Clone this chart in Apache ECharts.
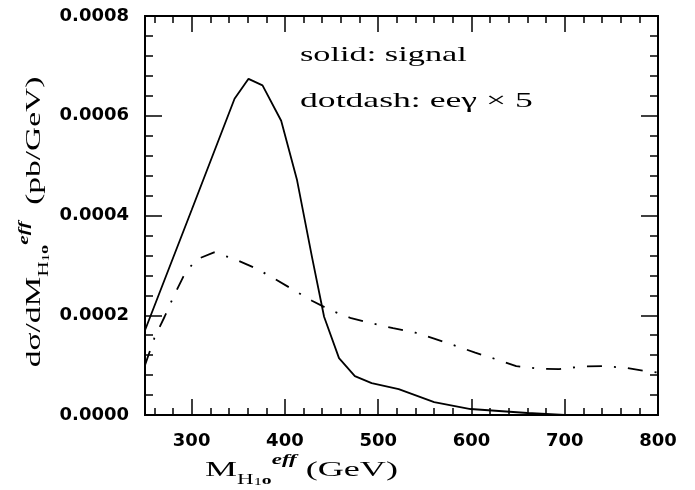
<!DOCTYPE html>
<html>
<head>
<meta charset="utf-8">
<script src="https://cdn.jsdelivr.net/npm/echarts@6/dist/echarts.min.js"></script>
<style>
html,body{margin:0;padding:0;background:#fff;}
#chart{width:695px;height:490px;}
</style>
</head>
<body>
<div id="chart"></div>
<script>
// ---- data ----
const signalMass  = [250, 300, 346, 361, 376, 396, 413, 429, 442, 458, 475, 493, 522, 560, 599, 660, 700];
const signalValue = [0.000170, 0.000411, 0.000634, 0.000674, 0.000661, 0.000590, 0.000471, 0.000317, 0.000197, 0.000114, 0.000078, 0.000064, 0.000052, 0.000026, 0.000012, 0.000004, 0];

const bgMass  = [250, 260, 271, 280, 291, 304, 324, 347, 369, 389, 409, 429, 449, 471, 493, 516, 540, 560, 581, 604, 626, 648, 671, 694, 717, 740, 764, 787, 800];
const bgValue = [0.000100, 0.000154, 0.000197, 0.000235, 0.000277, 0.000311, 0.000326, 0.000312, 0.000294, 0.000273, 0.000251, 0.000229, 0.000210, 0.000194, 0.000184, 0.000174, 0.000165, 0.000153, 0.000140, 0.000125, 0.000112, 0.000098, 0.000093, 0.000092, 0.000097, 0.000098, 0.000095, 0.000088, 0.000085];

const xMajorTicks = [300, 400, 500, 600, 700, 800];
const xMinorTicks = [260, 280, 320, 340, 360, 380, 420, 440, 460, 480, 520, 540, 560, 580, 620, 640, 660, 680, 720, 740, 760, 780];
const yTickLabels = ['0.0000', '0.0002', '0.0004', '0.0006', '0.0008'];

const legendLines = ['solid: signal', 'dotdash: eeγ × 5'];

// ---- chart ----
const chart = echarts.init(document.getElementById('chart'), null, {renderer: 'canvas'});
const INK = '#000';
const labelFont = {fontFamily: 'DejaVu Sans', fontWeight: 'bold', fontSize: 18, color: INK};
const serif = 'Liberation Serif';

function xAxisDef(pos, ticks, len, showLabel) {
  return {
    type: 'value', position: pos, min: 250, max: 800, gridIndex: 0,
    axisLine: {show: true, onZero: false, lineStyle: {color: INK, width: 2}},
    axisTick: {show: true, inside: true, length: len, customValues: ticks, lineStyle: {color: INK, width: 1.5}},
    axisLabel: showLabel ? Object.assign({show: true, margin: 17, customValues: xMajorTicks, formatter: v => String(v)}, labelFont) : {show: false},
    splitLine: {show: false}
  };
}
function yAxisDef(pos, showLabel) {
  return {
    type: 'value', position: pos, min: 0, max: 0.0008, interval: 0.0002,
    axisLine: {show: true, onZero: false, lineStyle: {color: INK, width: 2}},
    axisTick: {show: true, inside: true, length: 17, lineStyle: {color: INK, width: 1.5}},
    minorTick: {show: true, splitNumber: 5, length: 8, lineStyle: {color: INK, width: 1.5}},
    axisLabel: showLabel ? Object.assign({show: true, margin: 16, formatter: v => yTickLabels[Math.round(v / 0.0002)]}, labelFont) : {show: false},
    splitLine: {show: false}, minorSplitLine: {show: false}
  };
}

const subRich = {
  m: {fontFamily: serif, fontSize: 22, lineHeight: 34, verticalAlign: 'middle', color: INK},
  sub: {fontFamily: serif, fontSize: 14, lineHeight: 14, verticalAlign: 'bottom', color: INK},
  subsub: {fontFamily: serif, fontSize: 10, lineHeight: 10, verticalAlign: 'bottom', color: INK},
  sup: {fontFamily: serif, fontSize: 12, fontWeight: 'bold', lineHeight: 24, verticalAlign: 'bottom', color: INK},
  eff: {fontFamily: serif, fontSize: 14, fontWeight: 'bold', fontStyle: 'italic', lineHeight: 14, verticalAlign: 'top', color: INK}
};

const option = {
  backgroundColor: '#fff',
  animation: false,
  grid: {left: 145, right: 37, top: 16, bottom: 75, containLabel: false},
  xAxis: [
    xAxisDef('bottom', xMajorTicks, 16, true),
    xAxisDef('bottom', xMinorTicks, 7, false),
    xAxisDef('top', xMajorTicks, 16, false),
    xAxisDef('top', xMinorTicks, 7, false)
  ],
  yAxis: [
    yAxisDef('left', true),
    yAxisDef('right', false)
  ],
  series: [
    {
      type: 'line', name: 'signal', xAxisIndex: 0, yAxisIndex: 0,
      data: signalMass.map((m, i) => [m, signalValue[i]]),
      showSymbol: false, smooth: false, clip: true,
      lineStyle: {color: INK, width: 1.8, type: 'solid'}
    },
    {
      type: 'line', name: 'eeγ × 5', xAxisIndex: 0, yAxisIndex: 0,
      data: bgMass.map((m, i) => [m, bgValue[i]]),
      showSymbol: false, smooth: false, clip: true,
      lineStyle: {color: INK, width: 1.8, type: [15, 12, 2, 12], dashOffset: 0}
    }
  ],
  graphic: [
    {type: 'text', x: 300, y: 44, scaleX: 1.56, style: {text: legendLines[0], font: '22px "Liberation Serif"', fill: INK, verticalAlign: 'top'}},
    {type: 'text', x: 300, y: 90, scaleX: 1.62, style: {text: legendLines[1], font: '22px "Liberation Serif"', fill: INK, verticalAlign: 'top'}},
    // x axis title
    {
      type: 'text', x: 205, y: 470, scaleX: 1.64,
      style: {
        text: '{m|M}{sub|H}{subsub|1}{sup|o}{eff|eff}{m| (GeV)}',
        verticalAlign: 'middle',
        rich: subRich
      }
    },
    // y axis title
    {
      type: 'text', x: 34, y: 222, rotation: Math.PI / 2, scaleX: 1.52,
      style: {
        text: '{m|dσ/dM}{sub|H}{subsub|1}{sup|o}{eff|eff}{m|  (pb/GeV)}',
        align: 'center', verticalAlign: 'middle',
        rich: subRich
      }
    }
  ]
};
chart.setOption(option);
</script>
</body>
</html>
